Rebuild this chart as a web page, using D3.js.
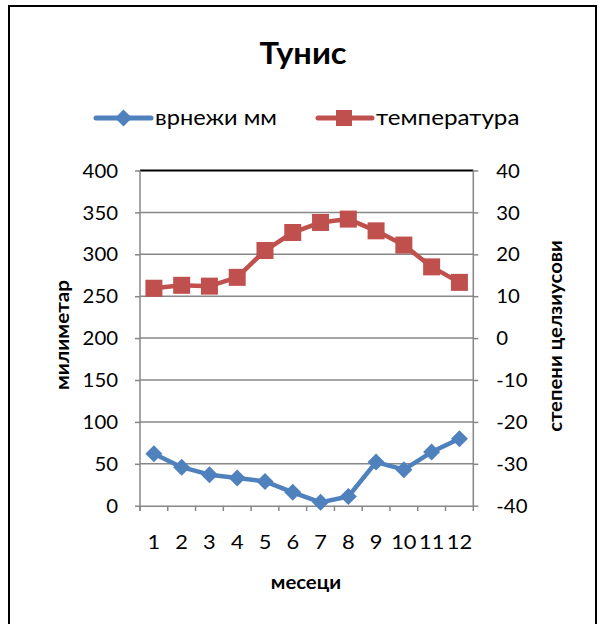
<!DOCTYPE html>
<html><head><meta charset="utf-8">
<script src="https://cdn.jsdelivr.net/npm/d3@7"></script>
<style>body{margin:0;background:#fff}svg{display:block}</style>
</head><body>
<script>
const months = ["1","2","3","4","5","6","7","8","9","10","11","12"];
const precipitation = [62, 46, 37, 33, 29, 16, 4, 11, 52, 43, 64, 80];
const temperature = [11.9, 12.6, 12.4, 14.5, 20.9, 25.2, 27.6, 28.4, 25.6, 22.2, 17.0, 13.3];
const leftTicks = [0, 50, 100, 150, 200, 250, 300, 350, 400];
const rightTicks = [-40, -30, -20, -10, 0, 10, 20, 30, 40];
const title = "Тунис";
const seriesNames = ["врнежи мм", "температура"];
const xTitle = "месеци", yLeftTitle = "милиметар", yRightTitle = "степени целзиусови";

const W = 598, H = 624;
const FONT = "Lato, 'Open Sans', sans-serif";
const SX = 1.15;
const BLUE = "#4F81BD", RED = "#C0504D", GRID = "#878787";

const svg = d3.select("body").append("svg").attr("width", W).attr("height", H);
svg.append("rect").attr("width", W).attr("height", H).attr("fill", "#fff");
svg.append("rect").attr("x", 9).attr("y", 6).attr("width", 587).attr("height", 640)
  .attr("fill", "none").attr("stroke", "#000").attr("stroke-width", 2);

const x = d3.scaleBand().domain(months).range([140, 473.3]);
const yL = d3.scaleLinear().domain([0, 400]).range([505.7, 170.5]);
const yR = d3.scaleLinear().domain([-40, 40]).range([505.7, 170.5]);

function txt(xp, yp, s, size, weight, anchor, rot, sx) {
  return svg.append("text")
    .attr("transform", `translate(${xp},${yp}) rotate(${rot||0}) scale(${sx||SX},1)`)
    .attr("text-anchor", anchor).attr("font-family", FONT)
    .attr("font-size", size).attr("font-weight", weight).attr("fill", "#000").text(s);
}

// gridlines
svg.append("g").selectAll("line").data(leftTicks.filter(d => d > 0)).join("line")
  .attr("x1", 140).attr("x2", 473.3).attr("y1", d => yL(d)).attr("y2", d => yL(d))
  .attr("stroke", d => d === 400 ? "#000" : GRID).attr("stroke-width", d => d === 400 ? 2 : 1.5);

// left axis
const gL = svg.append("g").attr("transform", "translate(140,0)")
  .call(d3.axisLeft(yL).tickValues(leftTicks).tickFormat(d => String(d)).tickSize(5).tickSizeOuter(0));
gL.select(".domain").remove();
gL.selectAll(".tick line").attr("stroke", GRID).attr("stroke-width", 1.5);
gL.selectAll(".tick text").attr("x", 0).attr("dy", "0.36em")
  .attr("transform", `translate(-22,0) scale(1.1,1)`)
  .attr("font-family", FONT).attr("font-size", 18.5).attr("fill", "#000");

// right axis
const gR = svg.append("g").attr("transform", "translate(473.3,0)")
  .call(d3.axisRight(yR).tickValues(rightTicks).tickFormat(d => String(d)).tickSize(5).tickSizeOuter(0));
gR.select(".domain").remove();
gR.selectAll(".tick line").attr("stroke", GRID).attr("stroke-width", 1.5);
gR.selectAll(".tick text").attr("x", 0).attr("dy", "0.36em")
  .attr("transform", `translate(23,0) scale(1.1,1)`)
  .attr("font-family", FONT).attr("font-size", 18.5).attr("fill", "#000");

// vertical axis lines
svg.append("line").attr("x1", 140).attr("x2", 140).attr("y1", 170.5).attr("y2", 511)
  .attr("stroke", GRID).attr("stroke-width", 1.5);
svg.append("line").attr("x1", 473.3).attr("x2", 473.3).attr("y1", 170.5).attr("y2", 511)
  .attr("stroke", GRID).attr("stroke-width", 1.5);

// x axis
const gX = svg.append("g").attr("transform", "translate(0,505.7)")
  .call(d3.axisBottom(x).tickSize(0).tickSizeOuter(0));
gX.select(".domain").attr("stroke", GRID).attr("stroke-width", 1.5);
gX.selectAll(".tick text").attr("y", 0).attr("dy", 0)
  .attr("transform", `translate(0,43) scale(1.12,1)`)
  .attr("font-family", FONT).attr("font-size", 19.5).attr("fill", "#000");
svg.append("g").selectAll("line").data(months).join("line")
  .attr("x1", d => x(d)).attr("x2", d => x(d)).attr("y1", 505.7).attr("y2", 511)
  .attr("stroke", GRID).attr("stroke-width", 1.5);

// series
const line = (ys, vals) => d3.line().x((d, i) => x(months[i]) + x.bandwidth() / 2).y(d => ys(d))(vals);
svg.append("path").attr("d", line(yR, temperature)).attr("fill", "none")
  .attr("stroke", RED).attr("stroke-width", 4.5).attr("stroke-linejoin", "round");
svg.append("g").selectAll("rect").data(temperature).join("rect")
  .attr("x", (d, i) => x(months[i]) + x.bandwidth() / 2 - 8.5).attr("y", d => yR(d) - 8.5)
  .attr("width", 17).attr("height", 17).attr("fill", RED);

svg.append("path").attr("d", line(yL, precipitation)).attr("fill", "none")
  .attr("stroke", BLUE).attr("stroke-width", 4.5).attr("stroke-linejoin", "round");
const diamond = (cx, cy, r) => `M${cx},${cy - r}L${cx + r},${cy}L${cx},${cy + r}L${cx - r},${cy}Z`;
svg.append("g").selectAll("path").data(precipitation).join("path")
  .attr("d", (d, i) => diamond(x(months[i]) + x.bandwidth() / 2, yL(d), 8.5)).attr("fill", BLUE);

// title
txt(303, 64, title, 31, "bold", "middle", 0, 1.05);

// legend
svg.append("line").attr("x1", 96).attr("x2", 151).attr("y1", 118).attr("y2", 118)
  .attr("stroke", BLUE).attr("stroke-width", 5).attr("stroke-linecap", "round");
svg.append("path").attr("d", diamond(123.5, 118, 8.5)).attr("fill", BLUE);
txt(155, 125, seriesNames[0], 20.5, "normal", "start");
svg.append("line").attr("x1", 318).attr("x2", 372).attr("y1", 118).attr("y2", 118)
  .attr("stroke", RED).attr("stroke-width", 5).attr("stroke-linecap", "round");
svg.append("rect").attr("x", 336).attr("y", 110).attr("width", 16).attr("height", 16).attr("fill", RED);
txt(376, 125, seriesNames[1], 20.5, "normal", "start", 0, 1.18);

// axis titles
txt(306, 589, xTitle, 18.5, "bold", "middle", 0, 1.1);
txt(69, 335, yLeftTitle, 18.5, "bold", "middle", -90, 1.12);
txt(562, 336, yRightTitle, 18, "bold", "middle", -90, 1.13);
</script>
</body></html>
